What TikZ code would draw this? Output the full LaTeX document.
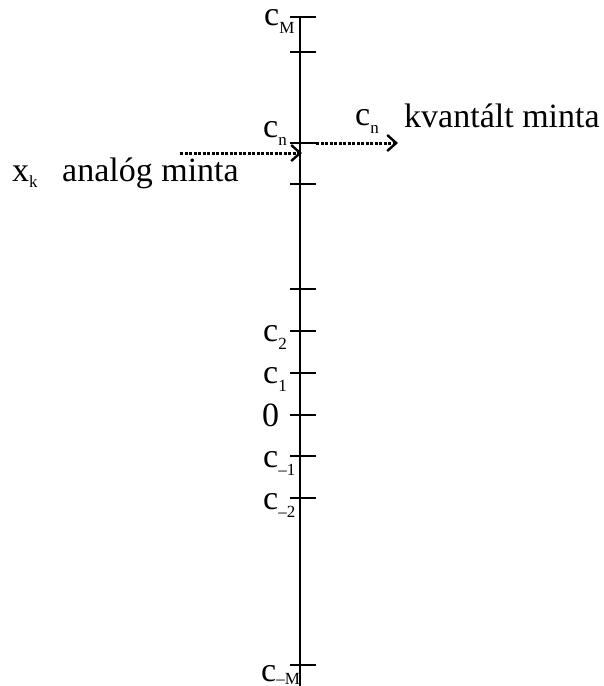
\documentclass[tikz,border=0pt]{standalone}
\usepackage{fontspec}
\setmainfont{Liberation Serif}
\usetikzlibrary{arrows.meta}
\newcommand{\lsub}[2][-8pt]{\raisebox{#1}{\fontsize{17}{17}\selectfont #2}}
\begin{document}
\begin{tikzpicture}[x=1pt,y=-1pt,
  lbl/.style={anchor=base west,inner sep=0pt,font=\fontsize{34}{36}\selectfont},
  axisline/.style={line width=2.6pt},
  tickline/.style={line width=2.4pt},
  dotarrow/.style={line width=3pt,dash pattern=on 3pt off 1.5pt,
    -{Straight Barb[length=9pt,width=16pt,line width=2.4pt]}}]
\useasboundingbox (0,0) rectangle (603,686);
% axis
\coordinate (atop) at (300,17);
\coordinate (abot) at (300,700);
\draw[axisline] (atop) -- (abot);
\foreach \y in {17,52,143,184,289,331,373,415,456,498,665}
  \draw[tickline] (290,\y) -- (316,\y);
% labels on axis
\node[lbl] (cM) at (264,25) {c\lsub{M}};
\node[lbl] (cnl) at (263,137) {c\lsub{n}};
\node[lbl] (c2) at (263,341) {c\lsub{2}};
\node[lbl] (c1) at (263,383) {c\lsub{1}};
\node[lbl] (c0) at (262,426) {0};
\node[lbl] (cm1) at (263,467) {c\lsub{–1}};
\node[lbl] (cm2) at (263,509) {c\lsub{–2}};
\node[lbl] (cmM) at (261,681) {c\lsub[-3pt]{–M}};
% input / output labels
\node[lbl] (xk) at (12,181) {x\lsub[-6pt]{k}};
\node[lbl] (analog) at (62,181) {analóg minta};
\node[lbl] (cnr) at (355,125) {c\lsub{n}};
\node[lbl] (kvant) at (404,127) {kvantált minta};
% arrows
\coordinate (inS) at (180,153);
\coordinate (inE) at (302,153);
\coordinate (outS) at (316,143);
\coordinate (outE) at (398,143);
\draw[dotarrow] (inS) -- (inE);
\draw[dotarrow] (outS) -- (outE);
\end{tikzpicture}
\end{document}
